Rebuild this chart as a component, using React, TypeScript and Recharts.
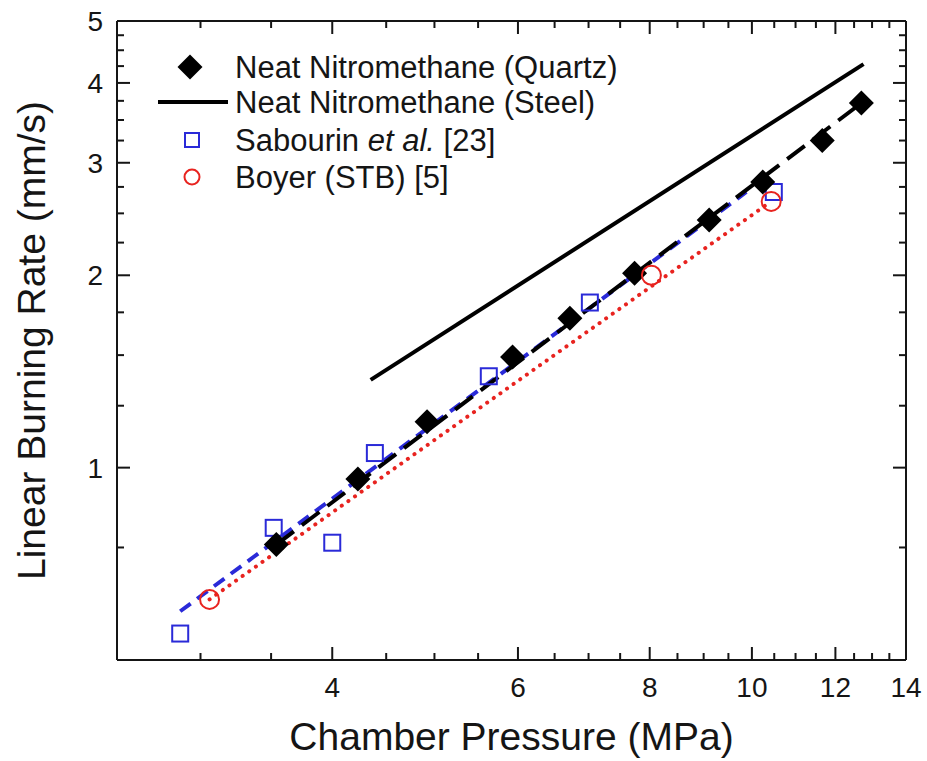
import { ScatterChart, Scatter, XAxis, YAxis, Legend } from "recharts";

// chamber pressure (MPa) / linear burning rate (mm/s)
const quartzP = [3.54, 4.23, 4.92, 5.93, 6.72, 7.74, 9.11, 10.24, 11.66, 12.7];
const quartzR = [0.758, 0.96, 1.18, 1.49, 1.713, 2.015, 2.44, 2.8, 3.25, 3.72];
const sabourinP = [2.87, 3.52, 4.0, 4.39, 5.63, 7.02, 10.49];
const sabourinR = [0.55, 0.805, 0.763, 1.054, 1.39, 1.813, 2.7];
const boyerP = [3.06, 8.03, 10.43];
const boyerR = [0.622, 2.0, 2.61];

// power-law fits (straight on log-log) - end points only
const quartzFitP = [3.54, 12.7];
const quartzFitR = [0.758, 3.72];
const steelP = [4.35, 12.76];
const steelR = [1.372, 4.28];
const sabourinFitP = [2.87, 9.88];
const sabourinFitR = [0.596, 2.7];
const boyerFitP = [3.06, 10.43];
const boyerFitR = [0.622, 2.61];

const xMajor = [4, 6, 8, 10, 12, 14];
const xMinor = [3, 3.5, 4.5, 5, 5.5, 6.5, 7, 7.5, 8.5, 9, 9.5, 10.5, 11, 11.5, 12.5, 13, 13.5];
const yMajor = [1, 2, 3, 4, 5];
const yMinor = [0.75, 1.25, 1.5, 1.75, 2.25, 2.5, 2.75, 3.25, 3.5, 3.75, 4.25, 4.5, 4.75];

const legendLabels = [
  "Neat Nitromethane (Quartz)",
  "Neat Nitromethane (Steel)",
  "Sabourin |et al.| [23]",
  "Boyer (STB) [5]",
];

const FONT = "'Liberation Sans', Arial, sans-serif";
const INK = "#151515";
const BLUE = "#2a2ad8";
const RED = "#e8231f";

const pts = (xs: number[], ys: number[]) => xs.map((x, i) => ({ x, y: ys[i] }));

const xTicks = [...xMajor, ...xMinor].sort((a, b) => a - b);
const yTicks = [...yMajor, ...yMinor].sort((a, b) => a - b);

const MAJ = 13;
const MIN = 7;

function BottomTick({ x, y, payload }: any) {
  const major = xMajor.includes(payload.value);
  return (
    <g>
      <line x1={x} x2={x} y1={y} y2={y - (major ? MAJ : MIN)} stroke={INK} strokeWidth={2} />
      {major && (
        <text x={x} y={y + 37} textAnchor="middle" fontSize={28} fontFamily={FONT} fill={INK}>
          {payload.value}
        </text>
      )}
    </g>
  );
}

function TopTick({ x, y, payload }: any) {
  const major = xMajor.includes(payload.value);
  return <line x1={x} x2={x} y1={y} y2={y + (major ? MAJ : MIN)} stroke={INK} strokeWidth={2} />;
}

function LeftTick({ x, y, payload }: any) {
  const major = yMajor.includes(payload.value);
  return (
    <g>
      <line x1={x} x2={x + (major ? MAJ : MIN)} y1={y} y2={y} stroke={INK} strokeWidth={2} />
      {major && (
        <text x={x - 14} y={y + 10} textAnchor="end" fontSize={28} fontFamily={FONT} fill={INK}>
          {payload.value}
        </text>
      )}
    </g>
  );
}

function RightTick({ x, y, payload }: any) {
  const major = yMajor.includes(payload.value);
  return <line x1={x} x2={x - (major ? MAJ : MIN)} y1={y} y2={y} stroke={INK} strokeWidth={2} />;
}

const Diamond = ({ cx, cy, r = 12.5 }: any) => (
  <path d={`M${cx},${cy - r}L${cx + r},${cy}L${cx},${cy + r}L${cx - r},${cy}Z`} fill="#000" />
);
const Square = ({ cx, cy, s = 16 }: any) => (
  <rect x={cx - s / 2} y={cy - s / 2} width={s} height={s} fill="none" stroke={BLUE} strokeWidth={2} />
);
const Ring = ({ cx, cy, r = 9.5 }: any) => (
  <circle cx={cx} cy={cy} r={r} fill="none" stroke={RED} strokeWidth={2} />
);
const NoDot = () => <g />;

function LegendBox() {
  const rowY = [19, 54, 92, 129];
  return (
    <svg width={480} height={150} style={{ display: "block" }}>
      <Diamond cx={40} cy={rowY[0]} r={12.5} />
      <line x1={8} x2={78} y1={rowY[1]} y2={rowY[1]} stroke="#000" strokeWidth={4} />
      <Square cx={42} cy={rowY[2]} s={14} />
      <Ring cx={42} cy={rowY[3]} r={7.5} />
      {legendLabels.map((lab, i) => (
        <text key={lab} x={85} y={rowY[i] + 11} fontSize={31} fontFamily={FONT} fill={INK}>
          {lab.split("|").map((part, j) => (
            <tspan key={j} fontStyle={j === 1 ? "italic" : "normal"}>
              {part}
            </tspan>
          ))}
        </text>
      ))}
    </svg>
  );
}

export default function App() {
  return (
    <div style={{ position: "absolute", left: 0, top: 0, background: "#fff" }}>
      <ScatterChart width={927} height={761} margin={{ top: 0, right: 0, bottom: 0, left: 0 }}>
        <XAxis
          dataKey="x"
          type="number"
          scale="log"
          domain={[2.5, 14]}
          allowDataOverflow
          ticks={xTicks}
          interval={0}
          height={101}
          tickSize={0}
          tickMargin={0}
          tickLine={false}
          axisLine={{ stroke: INK, strokeWidth: 2 }}
          tick={BottomTick}
          label={{
            content: ({ viewBox }: any) => (
              <text
                x={viewBox.x + viewBox.width / 2}
                y={viewBox.y + 90}
                textAnchor="middle"
                fontSize={39}
                fontFamily={FONT}
                fill={INK}
              >
                Chamber Pressure (MPa)
              </text>
            ),
          }}
        />
        <XAxis
          xAxisId="top"
          orientation="top"
          dataKey="x"
          type="number"
          scale="log"
          domain={[2.5, 14]}
          allowDataOverflow
          ticks={xTicks}
          interval={0}
          height={21}
          tickSize={0}
          tickMargin={0}
          tickLine={false}
          axisLine={{ stroke: INK, strokeWidth: 2 }}
          tick={TopTick}
        />
        <YAxis
          dataKey="y"
          type="number"
          scale="log"
          domain={[0.5, 5]}
          allowDataOverflow
          ticks={yTicks}
          interval={0}
          width={117}
          tickSize={0}
          tickMargin={0}
          tickLine={false}
          axisLine={{ stroke: INK, strokeWidth: 2 }}
          tick={LeftTick}
          label={{
            content: ({ viewBox }: any) => {
              const cx = 45;
              const cy = viewBox.y + viewBox.height / 2;
              return (
                <text
                  x={cx}
                  y={cy}
                  transform={`rotate(-90, ${cx}, ${cy})`}
                  textAnchor="middle"
                  fontSize={39}
                  fontFamily={FONT}
                  fill={INK}
                >
                  Linear Burning Rate (mm/s)
                </text>
              );
            },
          }}
        />
        <YAxis
          yAxisId="right"
          orientation="right"
          dataKey="y"
          type="number"
          scale="log"
          domain={[0.5, 5]}
          allowDataOverflow
          ticks={yTicks}
          interval={0}
          width={21}
          tickSize={0}
          tickMargin={0}
          tickLine={false}
          axisLine={{ stroke: INK, strokeWidth: 2 }}
          tick={RightTick}
        />

        {/* fit lines */}
        <Scatter
          data={pts(boyerFitP, boyerFitR)}
          fill={RED}
          line={{ stroke: RED, strokeWidth: 4, strokeDasharray: "0.1 8", strokeLinecap: "round" }}
          shape={NoDot}
          isAnimationActive={false}
        />
        <Scatter
          data={pts(sabourinFitP, sabourinFitR)}
          fill={BLUE}
          line={{ stroke: BLUE, strokeWidth: 4, strokeDasharray: "13 8" }}
          shape={NoDot}
          isAnimationActive={false}
        />
        <Scatter
          data={pts(quartzFitP, quartzFitR)}
          fill="#000"
          line={{ stroke: "#000", strokeWidth: 4, strokeDasharray: "22 10" }}
          shape={NoDot}
          isAnimationActive={false}
        />
        <Scatter
          data={pts(steelP, steelR)}
          fill="#000"
          line={{ stroke: "#000", strokeWidth: 4 }}
          shape={NoDot}
          isAnimationActive={false}
        />

        {/* measured points */}
        <Scatter data={pts(sabourinP, sabourinR)} fill={BLUE} shape={Square} isAnimationActive={false} />
        <Scatter data={pts(quartzP, quartzR)} fill="#000" shape={Diamond} isAnimationActive={false} />
        <Scatter data={pts(boyerP, boyerR)} fill={RED} shape={Ring} isAnimationActive={false} />

        <Legend
          layout="vertical"
          align="center"
          verticalAlign="middle"
          wrapperStyle={{ position: "absolute", left: 150, top: 48, width: 480, height: 150 }}
          content={() => <LegendBox />}
        />
      </ScatterChart>
    </div>
  );
}
